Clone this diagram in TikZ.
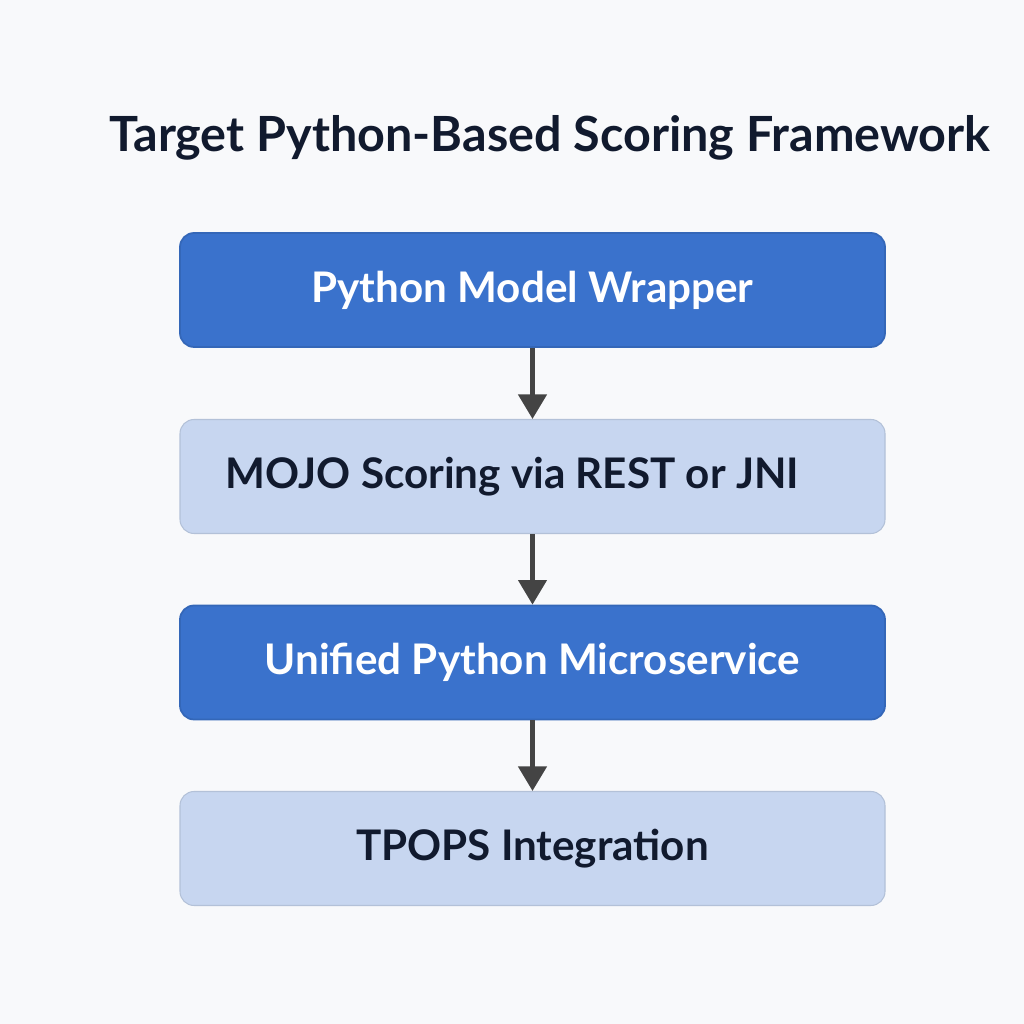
\documentclass[tikz,border=0pt]{standalone}
\usepackage{fontspec}
\setmainfont{Lato}
\usepackage{tikz}
\usetikzlibrary{arrows.meta,positioning}

\definecolor{pagebg}{HTML}{F8F9FB}
\definecolor{darkblue}{HTML}{3A72CC}
\definecolor{lightblue}{HTML}{C7D6F0}
\definecolor{inkdark}{HTML}{111A2E}
\definecolor{arrowgray}{HTML}{444444}

\tikzset{
  darkbox/.style={draw=darkblue!90!black, line width=0.5pt, fill=darkblue, rounded corners=4pt,
    minimum width=7.05cm, minimum height=1.14cm, text=white, font=\fontsize{12}{14}\selectfont\bfseries},
  lightbox/.style={draw=lightblue!90!black, line width=0.3pt, fill=lightblue, rounded corners=4pt,
    minimum width=7.05cm, minimum height=1.14cm, text=inkdark, font=\fontsize{12}{14}\selectfont\bfseries},
  flow/.style={-{Triangle[length=7pt,width=8pt]}, line width=1.2pt, arrowgray}
}

\begin{document}
\begin{tikzpicture}
  \fill[pagebg] (0,0) rectangle (10.24,10.24);
  \useasboundingbox (0,0) rectangle (10.24,10.24);

  \node[text=inkdark, font=\fontsize{13.8}{16}\selectfont\bfseries] (title) at (5.5,8.86) {Target Python-Based Scoring Framework};

  \node[darkbox] (wrap) at (5.325,7.34) {Python Model Wrapper};
  \node[lightbox] (mojo) at (5.325,5.475) {\hspace*{-0.4cm}MOJO Scoring via REST or JNI};
  \node[darkbox] (micro) at (5.325,3.615) {Unified Python Microservice};
  \node[lightbox] (tpops) at (5.325,1.755) {TPOPS Integration};

  \draw[flow] (wrap) -- (mojo);
  \draw[flow] (mojo) -- (micro);
  \draw[flow] (micro) -- (tpops);
\end{tikzpicture}
\end{document}
